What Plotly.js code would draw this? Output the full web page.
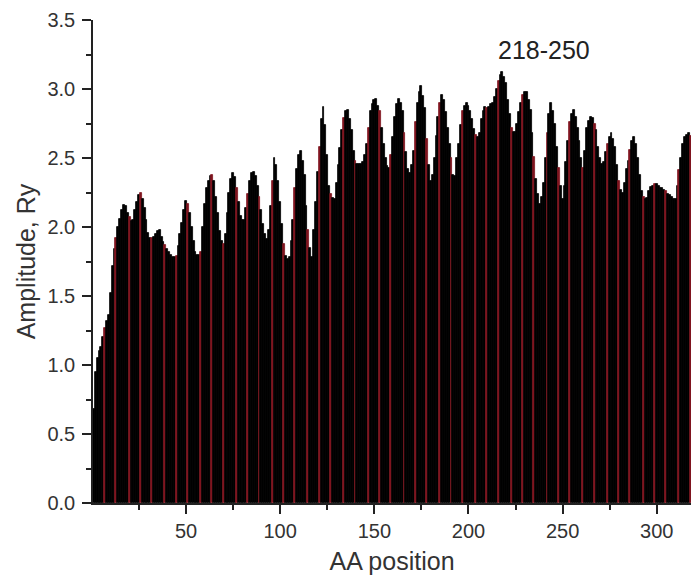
<!DOCTYPE html>
<html>
<head>
<meta charset="utf-8">
<script src="https://cdn.plot.ly/plotly-3.0.1.min.js"></script>
<style>html,body{margin:0;padding:0;background:#fff;}#chart{width:691px;height:586px;}</style>
</head>
<body>
<div id="chart"></div>
<script>
// Amplitude (Ry) per amino-acid position 1..318
const amplitude = [
  0.68,0.95,1.05,1.10,1.13,1.20,1.27,1.32,1.36,1.52,
  1.72,1.84,1.92,2.00,2.06,2.12,2.16,2.15,2.10,2.07,
  2.04,2.05,2.12,2.18,2.23,2.25,2.20,2.14,2.05,1.96,
  1.92,1.92,1.93,1.95,1.97,1.98,1.93,1.89,1.87,1.84,
  1.82,1.80,1.78,1.78,1.79,1.86,1.95,2.03,2.12,2.19,
  2.17,2.10,2.00,1.90,1.82,1.80,1.80,1.82,2.00,2.17,
  2.28,2.33,2.37,2.38,2.33,2.22,2.10,1.97,1.90,1.88,
  1.95,2.10,2.25,2.35,2.39,2.36,2.28,2.18,2.08,2.05,
  2.05,2.14,2.24,2.33,2.39,2.40,2.37,2.30,2.22,2.12,
  2.02,1.95,1.91,1.98,2.15,2.33,2.50,2.45,2.33,2.18,
  2.02,1.88,1.79,1.77,1.78,1.90,2.05,2.28,2.42,2.52,
  2.55,2.48,2.38,2.15,1.98,1.85,1.78,1.98,2.18,2.40,
  2.58,2.78,2.87,2.74,2.52,2.30,2.24,2.21,2.20,2.32,
  2.45,2.57,2.70,2.79,2.84,2.85,2.78,2.70,2.55,2.48,
  2.46,2.46,2.46,2.47,2.52,2.60,2.72,2.84,2.89,2.92,
  2.93,2.88,2.84,2.72,2.60,2.50,2.44,2.43,2.52,2.65,
  2.80,2.89,2.93,2.90,2.84,2.68,2.54,2.42,2.39,2.45,
  2.55,2.76,2.90,2.98,3.02,2.95,2.86,2.64,2.45,2.33,
  2.38,2.50,2.66,2.80,2.90,2.96,2.92,2.83,2.72,2.60,
  2.50,2.38,2.37,2.50,2.60,2.74,2.84,2.88,2.90,2.88,
  2.84,2.78,2.71,2.67,2.65,2.68,2.78,2.84,2.87,2.86,
  2.87,2.89,2.90,2.94,3.00,3.06,3.10,3.12,3.09,3.04,
  2.92,2.82,2.72,2.69,2.69,2.75,2.83,2.90,2.96,2.98,
  2.98,2.92,2.85,2.68,2.51,2.35,2.24,2.17,2.22,2.32,
  2.50,2.68,2.82,2.90,2.84,2.75,2.58,2.43,2.30,2.20,
  2.30,2.47,2.62,2.76,2.82,2.85,2.80,2.72,2.62,2.50,
  2.43,2.55,2.72,2.77,2.80,2.79,2.75,2.70,2.58,2.50,
  2.46,2.47,2.54,2.60,2.65,2.68,2.64,2.58,2.45,2.33,
  2.27,2.25,2.32,2.42,2.48,2.56,2.62,2.65,2.60,2.50,
  2.38,2.26,2.22,2.20,2.21,2.26,2.29,2.30,2.31,2.31,
  2.30,2.28,2.28,2.27,2.26,2.24,2.23,2.22,2.20,2.20,
  2.30,2.41,2.50,2.60,2.65,2.67,2.68,2.66
];
const positions = amplitude.map((_, i) => i + 1);

const xTickVals = [50, 100, 150, 200, 250, 300];
const yTickVals = [0, 0.5, 1.0, 1.5, 2.0, 2.5, 3.0, 3.5];
const peakLabel = "218-250";

// styling: black columns with thin dark-red stripes (moire of the original rendering)
const black = "#000000", red = "#801520";
const stripeStep = 6.35;
const colors = positions.map(p => (Math.floor(p / stripeStep) !== Math.floor((p - 1) / stripeStep)) ? red : black);

const trace = {
  type: "bar",
  x: positions,
  y: amplitude,
  marker: { color: colors, line: { color: colors, width: 0.8 } },
  hoverinfo: "x+y"
};

const FAM = "Liberation Sans, Arial, sans-serif";
const tickFont = { family: FAM, size: 20, color: "#333333" };

const layout = {
  width: 691, height: 586,
  margin: { l: 93, r: 0, t: 20, b: 83 },
  paper_bgcolor: "#ffffff", plot_bgcolor: "#ffffff",
  bargap: 0, bargroupgap: 0,
  showlegend: false,
  font: { family: FAM, color: "#333333" },
  xaxis: {
    range: [0.58, 318.2],
    tickmode: "array", tickvals: xTickVals,
    ticks: "outside", ticklen: 9, tickwidth: 1.5, tickcolor: "#222",
    minor: { dtick: 25, tick0: 0, ticks: "outside", ticklen: 5, tickwidth: 1.5, tickcolor: "#222" },
    showline: true, linecolor: "#222", linewidth: 1.5,
    showgrid: false, zeroline: false,
    tickfont: tickFont,
    title: { text: "AA position", font: { family: FAM, size: 25, color: "#333333" }, standoff: 12 }
  },
  yaxis: {
    range: [0, 3.5],
    tickmode: "array", tickvals: yTickVals, tickformat: ".1f",
    ticks: "outside", ticklen: 9, tickwidth: 1.5, tickcolor: "#222",
    minor: { dtick: 0.25, tick0: 0, ticks: "outside", ticklen: 5, tickwidth: 1.5, tickcolor: "#222" },
    showline: true, linecolor: "#222", linewidth: 1.5,
    showgrid: false, zeroline: false,
    tickfont: tickFont,
    ticklabelstandoff: 3,
    title: { text: "Amplitude, Ry", font: { family: FAM, size: 25, color: "#333333" }, standoff: 5 }
  },
  annotations: [{
    x: 240, y: 3.28, xref: "x", yref: "y",
    text: peakLabel, showarrow: false,
    font: { family: FAM, size: 25, color: "#222222" }
  }]
};

Plotly.newPlot("chart", [trace], layout, { displayModeBar: false });
</script>
</body>
</html>
